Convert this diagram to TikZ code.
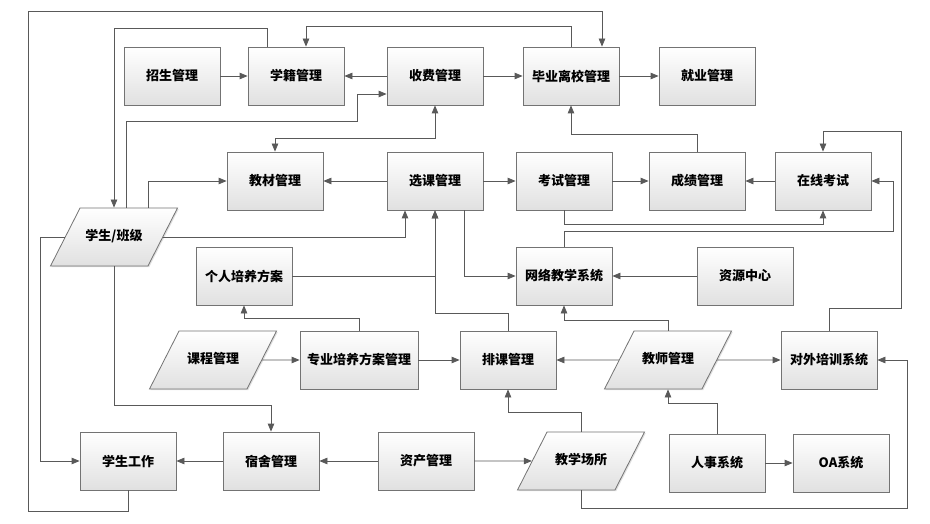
\documentclass[tikz,border=0pt]{standalone}
\usepackage{fontspec}
\newfontfamily\cjk{Noto Sans CJK SC}
\usepackage{tikz}
\usetikzlibrary{arrows.meta, shapes.geometric, shadows, calc}

\begin{document}
\begin{tikzpicture}[x=1pt, y=-1pt, >={Triangle[length=8pt, width=6.5pt]},
  box/.style={rectangle, draw=black!55, line width=0.8pt,
    minimum width=96pt, minimum height=58pt, inner sep=0pt,
    top color=white, bottom color=black!12,
    drop shadow={opacity=0.25, shadow xshift=1.2pt, shadow yshift=-1.2pt},
    font=\cjk\bfseries\fontsize{13}{15}\selectfont},
  para/.style={box, trapezium, trapezium left angle=63,
    trapezium right angle=117, trapezium stretches body,
    minimum height=0pt, text height=10pt, text depth=3pt,
    inner ysep=22.5pt, minimum width=127pt},
  link/.style={draw=black!65, line width=0.8pt, ->}]
  \fill[white] (0,0) rectangle (930,524);
  \useasboundingbox (0,0) rectangle (930,524);
  % first row
  \node[box] (zhaosheng) at (172,76) {招生管理};
  \node[box] (xueji) at (296,76) {学籍管理};
  \node[box] (shoufei) at (435,76) {收费管理};
  \node[box] (biye) at (571,76) {毕业离校管理};
  \node[box] (jiuye) at (707,76) {就业管理};
  % second row
  \node[box] (jiaocai) at (275,181) {教材管理};
  \node[box] (xuanke) at (435,181) {选课管理};
  \node[box] (kaoshi) at (564,181) {考试管理};
  \node[box] (chengji) at (697,181) {成绩管理};
  \node[box] (zaixian) at (823,181) {在线考试};
  % third row
  \node[para] (banji) at (114,237) {学生/班级};
  \node[box] (geren) at (244,276) {个人培养方案};
  \node[box] (wangluo) at (564,276) {网络教学系统};
  \node[box] (ziyuan) at (745,276) {资源中心};
  % fourth row
  \node[para] (kecheng) at (213,360) {课程管理};
  \node[box, minimum width=118pt] (zhuanye) at (359,360) {专业培养方案管理};
  \node[box] (paike) at (508,360) {排课管理};
  \node[para] (jiaoshi) at (668,360) {教师管理};
  \node[box] (duiwai) at (829,360) {对外培训系统};
  % bottom row
  \node[box] (xsgz) at (128,461) {学生工作};
  \node[box] (sushe) at (271,461) {宿舍管理};
  \node[box] (zichan) at (426,461) {资产管理};
  \node[para] (changsuo) at (581,461) {教学场所};
  \node[box] (renshi) at (717,463) {人事系统};
  \node[box] (oa) at (841,463) {OA系统};

  % links of the first row
  \draw[link] (zhaosheng) -- (xueji);
  \draw[link] (shoufei) -- (xueji);
  \draw[link] (shoufei) -- (biye);
  \draw[link] (biye) -- (jiuye);
  \draw[link] (biye.north) -- ++(0,-20) -| ($(xueji.north)+(10,0)$);
  \draw[link] ($(xueji.north)+(-29,0)$) -- ++(0,-18) -| (banji.north);
  \draw[link] ($(banji.north)+(12,0)$) -- ++(0,-86)
    -| ($(shoufei.west)+(-29,18)$) -- ($(shoufei.west)+(0,18)$);
  \draw[link, <->] (jiaocai.north) -- ++(0,-13) -| (shoufei.south);
  % links of the second row
  \draw[link] ($(banji.north)+(34,0)$) |- (jiaocai.west);
  \draw[link] (xuanke) -- (jiaocai);
  \draw[link] (xuanke) -- (kaoshi);
  \draw[link] (kaoshi) -- (chengji);
  \draw[link] (zaixian) -- (chengji);
  \draw[link] (chengji.north) -- ++(0,-17) -| (biye.south);
  \draw[link] (kaoshi.south) -- ++(0,14) -| (zaixian.south);
  \draw[link] (wangluo.north) -- ++(0,-15)
    -| ($(zaixian.east)+(22,0)$) -- (zaixian.east);
  \draw[link] (duiwai.north) -- ++(0,-22)
    -| ($(zaixian.north)+(78,-20)$) -| (zaixian.north);
  % links into course selection and the network system
  \draw[link] (banji.east) -| ($(xuanke.south)+(-30,0)$);
  \draw[link] (geren.east) -| (xuanke.south);
  \draw[link] (paike.north) -- ++(0,-17) -| (xuanke.south);
  \draw[link] ($(xuanke.south)+(29,0)$) |- (wangluo.west);
  \draw[link] (ziyuan) -- (wangluo);
  \draw[link] (jiaoshi.north) -- ++(0,-10) -| (wangluo.south);
  \draw[link] (zhuanye.north) -- ++(0,-12) -| (geren.south);
  % links of the fourth row
  \draw[link] (kecheng) -- (zhuanye);
  \draw[link] (zhuanye) -- (paike);
  \draw[link] (jiaoshi) -- (paike);
  \draw[link] (jiaoshi) -- (duiwai);
  \draw[link] (changsuo.north) -- ++(0,-19) -| (paike.south);
  \draw[link] (renshi.north) -- ++(0,-30) -| (jiaoshi.south);
  % links of the bottom row
  \draw[link] (renshi) -- (oa);
  \draw[link] (changsuo.south) -- ++(0,18)
    -| ($(duiwai.east)+(30,0)$) -- (duiwai.east);
  \draw[link] (zichan) -- (sushe);
  \draw[link] (zichan) -- (changsuo);
  \draw[link] (sushe) -- (xsgz);
  \draw[link] (banji.south) -- ++(0,139) -| (sushe.north);
  \draw[link] (banji.west) -- ++(-24,0) |- (xsgz.west);
  \draw[link] (xsgz.south) -- ++(0,21)
    -| ($(biye.north)+(-543,-35)$) -| ($(biye.north)+(31,0)$);
\end{tikzpicture}
\end{document}
